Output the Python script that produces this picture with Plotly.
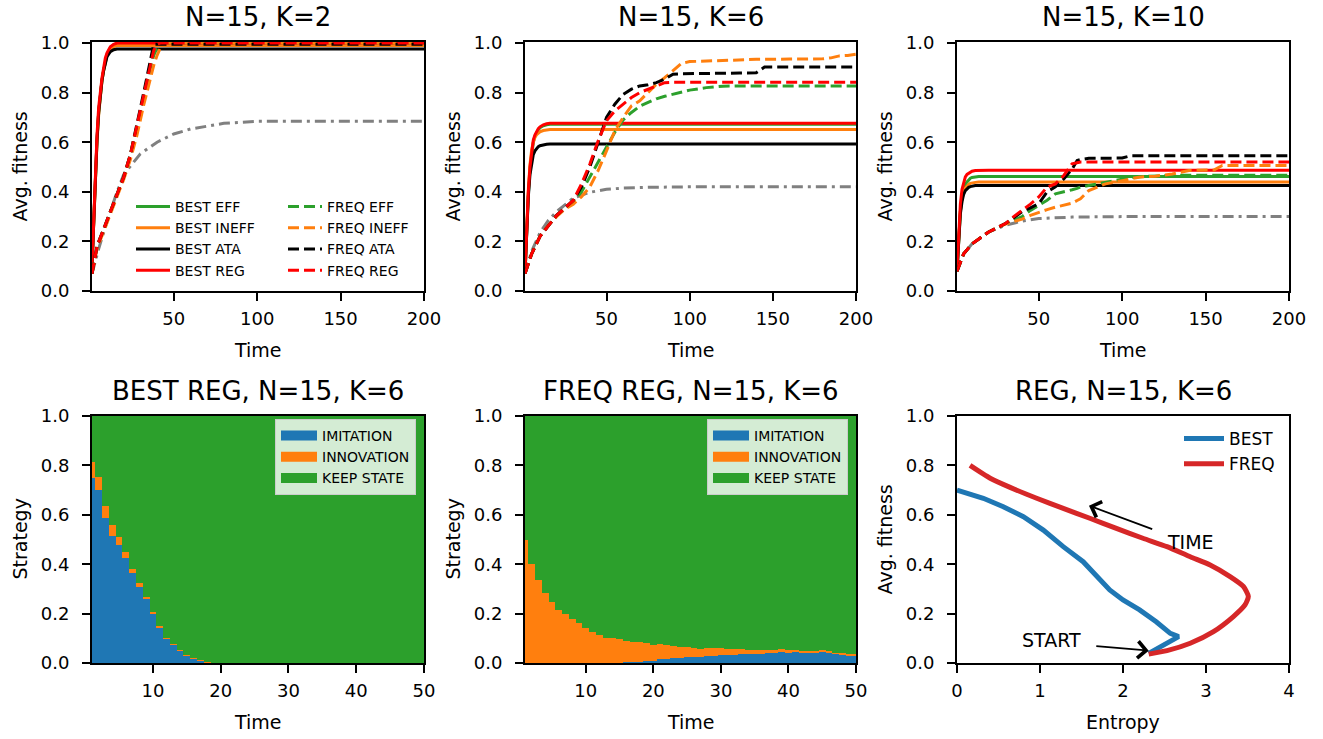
import plotly.graph_objects as go

# ---------------- colours ----------------
GREEN = "#2ca02c"
ORANGE = "#ff7f0e"
BLACK = "#000000"
RED = "#ff0000"
GREY = "#808080"
BLUE_T = "#1f77b4"
RED_T = "#d62728"
FONT = "DejaVu Sans"

# ---------------- top row: average fitness over time ----------------
# time grid for the fast-converging BEST strategies (all three panels)
T_BEST = [1, 2, 3, 4, 5, 6, 7, 8, 9, 10, 12, 14, 16, 20, 200]

# N=15, K=2
k2_best_eff = [0.10, 0.28, 0.47, 0.61, 0.72, 0.80, 0.85, 0.89, 0.93, 0.955, 0.98, 0.993, 0.998, 1.0, 1.0]
k2_best_ineff = [0.10, 0.28, 0.46, 0.60, 0.71, 0.79, 0.85, 0.89, 0.92, 0.95, 0.975, 0.985, 0.99, 0.99, 0.99]
k2_best_ata = [0.10, 0.29, 0.47, 0.61, 0.72, 0.80, 0.85, 0.89, 0.92, 0.945, 0.965, 0.973, 0.976, 0.976, 0.976]
k2_best_reg = [0.10, 0.30, 0.49, 0.63, 0.74, 0.81, 0.86, 0.90, 0.94, 0.96, 0.985, 0.995, 1.0, 1.0, 1.0]
T_K2_FREQ = [1, 4, 8, 12, 16, 20, 24, 28, 32, 36, 38, 40, 42, 44, 46, 50, 200]
k2_freq_eff = [0.07, 0.18, 0.25, 0.32, 0.39, 0.46, 0.55, 0.66, 0.78, 0.90, 0.95, 0.98, 1.0, 1.0, 1.0, 1.0, 1.0]
k2_freq_ineff = [0.07, 0.17, 0.24, 0.31, 0.38, 0.45, 0.53, 0.63, 0.75, 0.86, 0.91, 0.95, 0.98, 1.0, 1.0, 1.0, 1.0]
k2_freq_ata = [0.07, 0.18, 0.25, 0.32, 0.39, 0.46, 0.55, 0.67, 0.80, 0.93, 0.995, 0.995, 0.995, 0.995, 0.995, 0.995, 0.995]
k2_freq_reg = [0.07, 0.18, 0.25, 0.32, 0.39, 0.46, 0.55, 0.67, 0.80, 0.92, 0.97, 0.995, 1.0, 1.0, 1.0, 1.0, 1.0]
T_K2_RAND = [1, 5, 10, 15, 20, 30, 40, 50, 60, 80, 100, 200]
k2_random = [0.07, 0.17, 0.28, 0.38, 0.47, 0.553, 0.60, 0.633, 0.653, 0.676, 0.684, 0.684]

# N=15, K=6
k6_best_eff = [0.07, 0.24, 0.39, 0.49, 0.56, 0.60, 0.625, 0.64, 0.65, 0.658, 0.666, 0.670, 0.672, 0.672, 0.672]
k6_best_ineff = [0.07, 0.26, 0.41, 0.51, 0.57, 0.60, 0.62, 0.63, 0.637, 0.642, 0.647, 0.65, 0.651, 0.651, 0.651]
k6_best_ata = [0.07, 0.24, 0.38, 0.47, 0.52, 0.55, 0.565, 0.575, 0.582, 0.586, 0.59, 0.592, 0.593, 0.593, 0.593]
k6_best_reg = [0.07, 0.25, 0.40, 0.50, 0.57, 0.61, 0.63, 0.645, 0.655, 0.662, 0.67, 0.674, 0.676, 0.676, 0.676]
T_K6_FREQ = [1, 5, 10, 15, 20, 25, 30, 35, 40, 45, 50, 55, 60, 65, 70, 75, 80, 85, 90, 95,
             100, 110, 120, 130, 140, 145, 150, 160, 170, 180, 185, 190, 195, 200]
k6_freq_eff = [0.07, 0.15, 0.22, 0.265, 0.305, 0.335, 0.36, 0.40, 0.46, 0.52, 0.58, 0.64, 0.69, 0.72,
               0.745, 0.76, 0.775, 0.785, 0.793, 0.80, 0.81, 0.82, 0.826, 0.827, 0.827, 0.827, 0.827,
               0.827, 0.827, 0.827, 0.827, 0.827, 0.827, 0.827]
k6_freq_ineff = [0.07, 0.15, 0.22, 0.265, 0.30, 0.33, 0.35, 0.38, 0.42, 0.486, 0.565, 0.646, 0.70, 0.746,
                 0.767, 0.80, 0.834, 0.86, 0.89, 0.917, 0.925, 0.928, 0.93, 0.932, 0.934, 0.934, 0.935,
                 0.935, 0.935, 0.936, 0.94, 0.948, 0.95, 0.955]
k6_freq_ata = [0.07, 0.15, 0.22, 0.265, 0.305, 0.335, 0.365, 0.42, 0.50, 0.60, 0.70, 0.753, 0.793, 0.814,
               0.827, 0.832, 0.84, 0.854, 0.874, 0.876, 0.877, 0.878, 0.878, 0.879, 0.88, 0.903, 0.903,
               0.903, 0.903, 0.903, 0.903, 0.903, 0.903, 0.903]
k6_freq_reg = [0.07, 0.15, 0.22, 0.265, 0.305, 0.335, 0.365, 0.432, 0.512, 0.606, 0.686, 0.726, 0.753, 0.78,
               0.80, 0.814, 0.827, 0.84, 0.842, 0.842, 0.842, 0.842, 0.842, 0.842, 0.842, 0.842, 0.842,
               0.842, 0.842, 0.842, 0.842, 0.842, 0.842, 0.842]
T_K6_RAND = [1, 5, 10, 15, 20, 30, 40, 50, 60, 75, 100, 200]
k6_random = [0.07, 0.16, 0.235, 0.285, 0.32, 0.375, 0.398, 0.41, 0.415, 0.418, 0.42, 0.42]

# N=15, K=10
k10_best_eff = [0.08, 0.22, 0.32, 0.38, 0.41, 0.43, 0.44, 0.45, 0.455, 0.458, 0.461, 0.462, 0.462, 0.462, 0.462]
k10_best_ineff = [0.08, 0.23, 0.32, 0.37, 0.40, 0.415, 0.425, 0.43, 0.434, 0.436, 0.438, 0.439, 0.439, 0.439, 0.439]
k10_best_ata = [0.08, 0.22, 0.31, 0.36, 0.39, 0.405, 0.413, 0.418, 0.421, 0.423, 0.425, 0.425, 0.425, 0.425, 0.425]
k10_best_reg = [0.08, 0.25, 0.35, 0.41, 0.44, 0.46, 0.47, 0.475, 0.48, 0.483, 0.486, 0.487, 0.487, 0.487, 0.487]
T_K10_FREQ = [1, 5, 10, 15, 20, 25, 30, 35, 40, 45, 50, 55, 60, 65, 70, 73, 75, 80, 90, 100,
              105, 110, 120, 130, 140, 150, 155, 160, 170, 180, 190, 200]
k10_freq_eff = [0.08, 0.15, 0.19, 0.215, 0.238, 0.255, 0.272, 0.285, 0.30, 0.325, 0.345, 0.366, 0.392,
                0.399, 0.408, 0.414, 0.419, 0.425, 0.439, 0.452, 0.457, 0.461, 0.464, 0.466, 0.467,
                0.467, 0.467, 0.467, 0.467, 0.467, 0.467, 0.467]
k10_freq_ineff = [0.08, 0.15, 0.19, 0.215, 0.238, 0.255, 0.27, 0.28, 0.29, 0.305, 0.318, 0.328, 0.338,
                  0.346, 0.354, 0.365, 0.372, 0.405, 0.432, 0.445, 0.452, 0.459, 0.463, 0.472, 0.486,
                  0.487, 0.488, 0.506, 0.506, 0.506, 0.506, 0.506]
k10_freq_ata = [0.08, 0.15, 0.19, 0.215, 0.238, 0.255, 0.272, 0.295, 0.32, 0.335, 0.352, 0.40, 0.42,
                0.452, 0.492, 0.526, 0.53, 0.535, 0.536, 0.536, 0.545, 0.545, 0.545, 0.545, 0.545,
                0.545, 0.545, 0.545, 0.545, 0.545, 0.545, 0.545]
k10_freq_reg = [0.08, 0.15, 0.19, 0.215, 0.238, 0.255, 0.272, 0.30, 0.325, 0.35, 0.379, 0.419, 0.432,
                0.466, 0.513, 0.518, 0.52, 0.52, 0.52, 0.52, 0.52, 0.52, 0.52, 0.52, 0.52, 0.52, 0.52,
                0.52, 0.52, 0.52, 0.52, 0.52]
T_K10_RAND = [1, 5, 10, 20, 30, 40, 50, 70, 100, 200]
k10_random = [0.08, 0.15, 0.19, 0.238, 0.265, 0.282, 0.292, 0.298, 0.30, 0.30]

# ---------------- bottom row: strategy shares ----------------
STEPS = list(range(1, 51))
best_imitation = [0.748, 0.70, 0.586, 0.515, 0.478, 0.424, 0.363, 0.309, 0.258, 0.201,
                  0.144, 0.10, 0.073, 0.05, 0.030, 0.019, 0.009, 0.002, 0.001, 0.0] + [0.0] * 30
best_innovation = [0.067, 0.054, 0.051, 0.044, 0.033, 0.027, 0.018, 0.014, 0.011, 0.007,
                   0.006, 0.003, 0.003, 0.001, 0.001, 0.001, 0.002, 0.003, 0.0, 0.0] + [0.0] * 30
freq_imitation = [0.0] * 14 + [0.002, 0.003, 0.004, 0.006, 0.007, 0.009, 0.015, 0.017, 0.019, 0.021,
                               0.023, 0.025, 0.026, 0.027, 0.028, 0.032, 0.034, 0.034, 0.035, 0.035,
                               0.036, 0.038, 0.04, 0.041, 0.043, 0.043, 0.043, 0.043, 0.044, 0.044,
                               0.045, 0.043, 0.039, 0.036, 0.032, 0.032]
freq_innovation = [0.498, 0.40, 0.336, 0.285, 0.248, 0.215, 0.198, 0.178, 0.161, 0.140,
                   0.127, 0.113, 0.10, 0.10, 0.096, 0.087, 0.082, 0.078, 0.073, 0.065,
                   0.062, 0.055, 0.048, 0.044, 0.040, 0.036, 0.031, 0.032, 0.033, 0.027,
                   0.023, 0.024, 0.020, 0.018, 0.015, 0.015, 0.013, 0.012, 0.014, 0.008,
                   0.011, 0.007, 0.005, 0.006, 0.006, 0.004, 0.003, 0.003, 0.004, 0.003]
best_keep = [1 - a - b for a, b in zip(best_imitation, best_innovation)]
freq_keep = [1 - a - b for a, b in zip(freq_imitation, freq_innovation)]

# ---------------- bottom right: entropy vs fitness trajectories ----------------
best_entropy = [2.31, 2.49, 2.67, 2.57, 2.40, 2.20, 2.00, 1.84, 1.68, 1.52, 1.28, 1.04, 0.80, 0.558, 0.317, 0.0]
best_fitness = [0.039, 0.073, 0.107, 0.12, 0.167, 0.215, 0.255, 0.296, 0.35, 0.41, 0.471, 0.538, 0.592, 0.633, 0.667, 0.70]
freq_entropy = [2.31, 2.53, 2.81, 3.09, 3.33, 3.47, 3.51, 3.45, 3.29, 3.05, 2.81, 2.53, 2.24, 1.92,
                1.60, 1.28, 0.96, 0.64, 0.40, 0.157]
freq_fitness = [0.036, 0.05, 0.08, 0.127, 0.188, 0.235, 0.27, 0.31, 0.35, 0.397, 0.43, 0.471, 0.505,
                0.545, 0.586, 0.626, 0.667, 0.711, 0.748, 0.80]

W, H = 1323, 739


def px_x(p):
    return p / W


def px_y(p):
    return 1 - p / H


# plot-area boxes (left, right) and (top, bottom) in page pixels
COLS = [(92, 424), (525, 856), (957, 1289)]
TOP_ROW = (42, 291)
BOT_ROW = (416, 663)

fig = go.Figure()

top_panels = [
    ("x", "y", k2_best_eff, k2_best_ineff, k2_best_ata, k2_best_reg,
     T_K2_FREQ, k2_freq_eff, k2_freq_ineff, k2_freq_ata, k2_freq_reg, T_K2_RAND, k2_random),
    ("x2", "y2", k6_best_eff, k6_best_ineff, k6_best_ata, k6_best_reg,
     T_K6_FREQ, k6_freq_eff, k6_freq_ineff, k6_freq_ata, k6_freq_reg, T_K6_RAND, k6_random),
    ("x3", "y3", k10_best_eff, k10_best_ineff, k10_best_ata, k10_best_reg,
     T_K10_FREQ, k10_freq_eff, k10_freq_ineff, k10_freq_ata, k10_freq_reg, T_K10_RAND, k10_random),
]

for i, (xa, ya, be, bi, ba, br, tf, fe, fi, fa, fr, tr, rnd) in enumerate(top_panels):
    first = i == 0
    fig.add_trace(go.Scatter(x=tr, y=rnd, xaxis=xa, yaxis=ya, mode="lines",
                             line=dict(color=GREY, width=3, dash="11px,5px,3px,5px"),
                             showlegend=False, hoverinfo="skip"))
    for name, vals, col in [("BEST EFF", be, GREEN), ("BEST INEFF", bi, ORANGE),
                            ("BEST ATA", ba, BLACK), ("BEST REG", br, RED)]:
        fig.add_trace(go.Scatter(x=T_BEST, y=vals, xaxis=xa, yaxis=ya, mode="lines", name=name,
                                 line=dict(color=col, width=3), showlegend=first, legend="legend"))
    for name, vals, col in [("FREQ EFF", fe, GREEN), ("FREQ INEFF", fi, ORANGE),
                            ("FREQ ATA", fa, BLACK), ("FREQ REG", fr, RED)]:
        fig.add_trace(go.Scatter(x=tf, y=vals, xaxis=xa, yaxis=ya, mode="lines", name=name,
                                 line=dict(color=col, width=3, dash="11px,5px"),
                                 showlegend=first, legend="legend2"))

# stacked strategy shares
for xa, ya, imi, inn, keep, leg in [("x4", "y4", best_imitation, best_innovation, best_keep, "legend3"),
                                    ("x5", "y5", freq_imitation, freq_innovation, freq_keep, "legend4")]:
    for name, vals, col in [("IMITATION", imi, BLUE_T), ("INNOVATION", inn, ORANGE),
                            ("KEEP STATE", keep, GREEN)]:
        fig.add_trace(go.Bar(x=STEPS, y=vals, xaxis=xa, yaxis=ya, width=1.0,
                             marker=dict(color=col, line=dict(width=0)),
                             showlegend=False, hoverinfo="skip"))
        # legend swatch drawn as a thick line
        fig.add_trace(go.Scatter(x=[None], y=[None], xaxis=xa, yaxis=ya, mode="lines", name=name,
                                 line=dict(color=col, width=10), legend=leg))

# entropy trajectories
fig.add_trace(go.Scatter(x=best_entropy, y=best_fitness, xaxis="x6", yaxis="y6", mode="lines",
                         name="BEST", line=dict(color=BLUE_T, width=5), legend="legend5"))
fig.add_trace(go.Scatter(x=freq_entropy, y=freq_fitness, xaxis="x6", yaxis="y6", mode="lines",
                         name="FREQ", line=dict(color=RED_T, width=5, shape="spline", smoothing=0.6),
                         legend="legend5"))

axis_common = dict(showline=True, linecolor="black", linewidth=2, mirror=True, ticks="outside",
                   ticklen=8, tickwidth=2, tickcolor="black", showgrid=False, zeroline=False,
                   automargin=False,
                   tickfont=dict(family=FONT, size=18, color="black"))

layout = dict(
    width=W, height=H, margin=dict(l=0, r=0, t=0, b=0, autoexpand=False),
    paper_bgcolor="white", plot_bgcolor="white",
    font=dict(family=FONT, color="black"),
    barmode="stack", bargap=0,
    showlegend=True,
)

panels = [(1, COLS[0], TOP_ROW), (2, COLS[1], TOP_ROW), (3, COLS[2], TOP_ROW),
          (4, COLS[0], BOT_ROW), (5, COLS[1], BOT_ROW), (6, COLS[2], BOT_ROW)]
for n, (l, r), (t, b) in panels:
    sfx = "" if n == 1 else str(n)
    xa = dict(axis_common, domain=[px_x(l), px_x(r)], anchor="y" + sfx, ticklabelstandoff=2)
    ya = dict(axis_common, domain=[px_y(b), px_y(t)], anchor="x" + sfx, ticklabelstandoff=9,
              tickvals=[0, 0.2, 0.4, 0.6, 0.8, 1.0], tickformat=".1f")
    if n <= 3:
        xa.update(range=[1, 200], tickvals=[50, 100, 150, 200])
        ya.update(range=[0, 1.004])
    elif n <= 5:
        xa.update(range=[1, 50], tickvals=[10, 20, 30, 40, 50])
        ya.update(range=[0, 1.0])
    else:
        xa.update(range=[0, 4], tickvals=[0, 1, 2, 3, 4])
        ya.update(range=[0, 1.0])
    layout["xaxis" + sfx] = xa
    layout["yaxis" + sfx] = ya

leg_font = dict(family=FONT, size=14, color="black")
layout["legend"] = dict(x=px_x(131), y=px_y(191), xanchor="left", yanchor="top", itemwidth=34,
                        bgcolor="rgba(0,0,0,0)", font=leg_font, tracegroupgap=0, traceorder="normal")
layout["legend2"] = dict(x=px_x(283), y=px_y(191), xanchor="left", yanchor="top", itemwidth=34,
                         bgcolor="rgba(0,0,0,0)", font=leg_font, tracegroupgap=0, traceorder="normal")
box = dict(bgcolor="rgba(255,255,255,0.8)", bordercolor="#cccccc", borderwidth=1, itemwidth=36,
           font=leg_font, tracegroupgap=0, xanchor="left", yanchor="top", traceorder="normal")
layout["legend3"] = dict(box, x=px_x(275), y=px_y(419))
layout["legend4"] = dict(box, x=px_x(707), y=px_y(419))
layout["legend5"] = dict(x=px_x(1179), y=px_y(421), xanchor="left", yanchor="top", itemwidth=40,
                         bgcolor="rgba(0,0,0,0)", traceorder="normal",
                         font=dict(family=FONT, size=17, color="black"))

annotations = []
titles = ["N=15, K=2", "N=15, K=6", "N=15, K=10",
          "BEST REG, N=15, K=6", "FREQ REG, N=15, K=6", "REG, N=15, K=6"]
for (n, (l, r), (t, b)), title in zip(panels, titles):
    annotations.append(dict(text=title, x=px_x((l + r) / 2), y=px_y(t - 25), xref="paper", yref="paper",
                            xanchor="center", yanchor="middle", showarrow=False,
                            font=dict(family=FONT, size=26, color="black")))
    xlabel = "Entropy" if n == 6 else "Time"
    ylabel = "Strategy" if n in (4, 5) else "Avg. fitness"
    annotations.append(dict(text=xlabel, x=px_x((l + r) / 2), y=px_y(b + 59), xref="paper", yref="paper",
                            xanchor="center", yanchor="middle", showarrow=False,
                            font=dict(family=FONT, size=19, color="black")))
    annotations.append(dict(text=ylabel, x=px_x(l - 73), y=px_y((t + b) / 2), xref="paper", yref="paper",
                            xanchor="center", yanchor="middle", showarrow=False, textangle=-90,
                            font=dict(family=FONT, size=19, color="black")))

# arrows and labels on the entropy panel
annotations.append(dict(x=1.59, y=0.637, ax=2.37, ay=0.54, xref="x6", yref="y6", axref="x6", ayref="y6",
                        text="", showarrow=True, arrowhead=4, arrowsize=1.8, arrowwidth=1.8,
                        arrowcolor="black"))
annotations.append(dict(x=2.31, y=0.05, ax=1.66, ay=0.069, xref="x6", yref="y6", axref="x6", ayref="y6",
                        text="", showarrow=True, arrowhead=4, arrowsize=1.8, arrowwidth=1.8,
                        arrowcolor="black"))
annotations.append(dict(x=2.50, y=0.49, xref="x6", yref="y6", text="TIME", showarrow=False,
                        xanchor="left", yanchor="middle", font=dict(family=FONT, size=19, color="black")))
annotations.append(dict(x=1.14, y=0.093, xref="x6", yref="y6", text="START", showarrow=False,
                        xanchor="center", yanchor="middle", font=dict(family=FONT, size=19, color="black")))
layout["annotations"] = annotations

fig.update_layout(**layout)
fig.write_html("out.html")
